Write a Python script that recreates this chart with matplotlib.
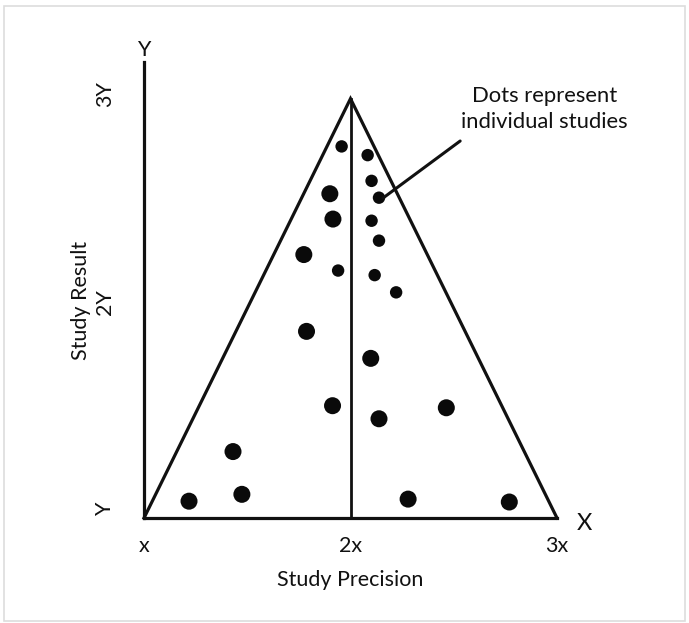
import matplotlib
matplotlib.use("Agg")
import matplotlib.pyplot as plt
from matplotlib.patches import Rectangle

plt.rcParams["font.family"] = ["Lato", "DejaVu Sans"]

# Funnel plot of individual studies: precision (x) vs. result (y)
x_ticks = [1, 2, 3]
x_tick_labels = ["x", "2x", "3x"]
y_ticks = [1, 2, 3]
y_tick_labels = ["Y", "2Y", "3Y"]

# funnel outline: base corners and apex
funnel_base = 0.96
funnel_left = 1.0
funnel_right = 3.0
funnel_apex_x = 2.0
funnel_apex_y = 2.98

# individual studies
study_precision = [1.957, 2.083, 2.102, 1.900, 2.138, 1.915, 2.102, 2.138,
                   1.774, 1.940, 2.117, 2.221, 1.787, 2.098, 1.913, 2.138,
                   2.464, 1.431, 1.218, 1.474, 2.279, 2.769]
study_result = [2.750, 2.708, 2.584, 2.522, 2.503, 2.400, 2.392, 2.296,
                2.229, 2.152, 2.130, 2.047, 1.859, 1.729, 1.501, 1.438,
                1.491, 1.280, 1.041, 1.074, 1.051, 1.037]
study_weight = ["s", "s", "s", "l", "s", "l", "s", "s",
                "l", "s", "s", "s", "l", "l", "l", "l",
                "l", "l", "l", "l", "l", "l"]

# annotation pointer: text anchor and target dot
note_text = "Dots represent\nindividual studies"
note_pos = (2.94, 2.93)
pointer_start = (2.531, 2.776)
pointer_end = (2.157, 2.501)

W, H = 689, 623
fig = plt.figure(figsize=(W / 100, H / 100), dpi=100)
fig.patch.set_facecolor("white")

# axes placed so the axis lines meet at the lower-left corner of the funnel
left_px, right_px, bottom_px, top_px = 144, 557, 518, 62
ax = fig.add_axes([left_px / W, 1 - bottom_px / H,
                   (right_px - left_px) / W, (bottom_px - top_px) / H])
ax.set_xlim(1, 3)
ax.set_ylim(funnel_base, 2 + (302 - top_px) / 207.5)
ax.set_facecolor("none")

ink = "#111111"
lw = 2.3
ax.spines["top"].set_visible(False)
ax.spines["right"].set_visible(False)
for side in ("left", "bottom"):
    ax.spines[side].set_linewidth(lw)
    ax.spines[side].set_color("#111111")

ax.set_xticks(x_ticks)
ax.set_xticklabels(x_tick_labels, fontsize=15.5, color=ink)
ax.set_yticks(y_ticks)
ax.set_yticklabels(y_tick_labels, fontsize=15.5, color=ink,
                   rotation=90, va="center")
ax.tick_params(axis="x", length=0, pad=13)
ax.tick_params(axis="y", length=0, pad=21)

ax.set_xlabel("Study Precision", fontsize=15.5, color=ink, labelpad=10)
ax.set_ylabel("Study Result", fontsize=15.5, color=ink)
ax.yaxis.set_label_coords(-0.128, 0.478)

# funnel outline and center line
ax.plot([funnel_left, funnel_apex_x, funnel_right],
        [funnel_base, funnel_apex_y, funnel_base],
        color="#111111", lw=lw, solid_joinstyle="miter", clip_on=False)
ax.plot([funnel_apex_x, funnel_apex_x], [funnel_base, funnel_apex_y],
        color="#111111", lw=2.0, clip_on=False)

# studies
size_map = {"l": 150, "s": 80}
sizes = [size_map[w] for w in study_weight]
ax.scatter(study_precision, study_result, s=sizes, color="#0a0a0a",
           edgecolors="none", zorder=3, clip_on=False)

# annotation
ax.annotate("", xy=pointer_end, xytext=pointer_start,
            arrowprops=dict(arrowstyle="-", lw=2.2, color="#111111",
                            shrinkA=0, shrinkB=0))
ax.text(note_pos[0], note_pos[1], note_text, ha="center", va="center",
        fontsize=15.8, color=ink, linespacing=1.4)

# axis end letters
ax.text(0.0, 1.005, "Y", transform=ax.transAxes, ha="center", va="bottom",
        fontsize=15.5, color=ink)
ax.annotate("X", xy=(funnel_right, funnel_base), xytext=(20, -4),
            textcoords="offset points", ha="center", va="center",
            fontsize=17, color=ink, annotation_clip=False)

# light frame around the figure
fig.patches.append(Rectangle((4 / W, 2 / H), (W - 8) / W, (H - 8) / H,
                             transform=fig.transFigure, fill=False,
                             edgecolor="#dddddd", lw=1.2))

fig.savefig("out.png", dpi=100, facecolor="white")
